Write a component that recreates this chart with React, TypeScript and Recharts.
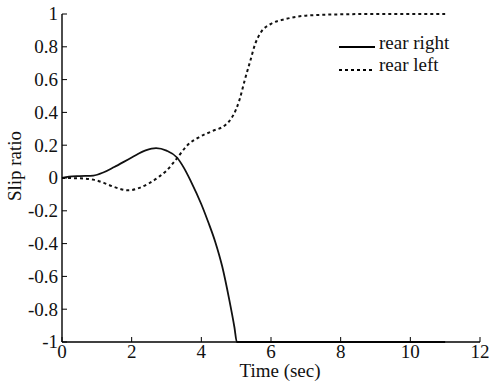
import { Legend, Line, LineChart, XAxis, YAxis } from 'recharts'

// time (sec) / slip ratio samples
const rightTime = [0, 0.2, 0.5, 0.9, 1.2, 1.5, 2.0, 2.4, 2.7, 3.0, 3.3, 3.5, 3.7, 4.0, 4.2, 4.4, 4.6, 4.8, 4.95, 5.02, 6, 8, 11]
const rightSlip = [0, 0.008, 0.012, 0.015, 0.035, 0.067, 0.125, 0.168, 0.182, 0.167, 0.125, 0.062, -0.02, -0.16, -0.27, -0.39, -0.54, -0.74, -0.91, -1, -1, -1, -1]

const leftTime = [0, 0.5, 0.9, 1.2, 1.5, 1.9, 2.2, 2.5, 2.8, 3.0, 3.3, 3.6, 3.9, 4.3, 4.7, 4.85, 5.0, 5.1, 5.25, 5.4, 5.55, 5.7, 6.0, 6.4, 7.0, 7.8, 9, 11]
const leftSlip = [0, -0.002, -0.01, -0.03, -0.055, -0.075, -0.062, -0.032, 0.01, 0.045, 0.12, 0.2, 0.245, 0.285, 0.325, 0.36, 0.42, 0.48, 0.6, 0.71, 0.82, 0.885, 0.94, 0.968, 0.99, 0.997, 1, 1]

const xTicks = [0, 2, 4, 6, 8, 10, 12]
const yTicks = [-1, -0.8, -0.6, -0.4, -0.2, 0, 0.2, 0.4, 0.6, 0.8, 1]

const rearRight = rightTime.map((t, i) => ({ t, slip: rightSlip[i] }))
const rearLeft = leftTime.map((t, i) => ({ t, slip: leftSlip[i] }))

const txt = { fontFamily: 'Liberation Serif, Times New Roman, serif', fontSize: 19 }
const TICK = 5
const DOTS = '3 3'

const BottomTick = ({ x, y, payload }: any) => (
  <g>
    <line x1={x} x2={x} y1={y} y2={y - TICK} stroke="#000" />
    <text x={x} y={y + 16} textAnchor="middle" style={txt} fill="#111">
      {payload.value}
    </text>
  </g>
)

const TopTick = ({ x, y }: any) => <line x1={x} x2={x} y1={y} y2={y + TICK} stroke="#000" />

const LeftTick = ({ x, y, payload }: any) => (
  <g>
    <line x1={x} x2={x + TICK} y1={y} y2={y} stroke="#000" />
    <text x={x - 4} y={y} dy="0.34em" textAnchor="end" style={txt} fill="#111">
      {payload.value}
    </text>
  </g>
)

const RightTick = ({ x, y }: any) => <line x1={x} x2={x - TICK} y1={y} y2={y} stroke="#000" />

const LegendBox = () => (
  <svg width={148} height={46} style={{ display: 'block', overflow: 'visible' }}>
    <line x1={0} x2={36} y1={11} y2={11} stroke="#000" strokeWidth={1.8} />
    <text x={40} y={12.5} style={txt} fill="#111">rear right</text>
    <line x1={0} x2={36} y1={34} y2={34} stroke="#000" strokeWidth={2} strokeDasharray={DOTS} />
    <text x={40} y={34.7} style={txt} fill="#111">rear left</text>
  </svg>
)

export default function App() {
  return (
    <div style={{ position: 'absolute', left: 0, top: 0, background: '#fff' }}>
      <LineChart width={489} height={381} margin={{ top: 14, right: 9, bottom: 0, left: 0 }}>
        <XAxis
          type="number"
          dataKey="t"
          domain={[0, 12]}
          ticks={xTicks}
          height={39}
          tickSize={0}
          tickMargin={0}
          tick={<BottomTick />}
          axisLine={{ stroke: '#000', strokeWidth: 1.4 }}
          label={{
            content: ({ viewBox }: any) => (
              <text x={viewBox.x + viewBox.width / 2 + 9} y={377} textAnchor="middle" style={txt} fill="#111">
                Time (sec)
              </text>
            ),
          }}
        />
        <XAxis
          xAxisId="top"
          orientation="top"
          type="number"
          domain={[0, 12]}
          ticks={xTicks}
          height={0}
          tickSize={0}
          tickMargin={0}
          tick={<TopTick />}
          axisLine={{ stroke: '#000', strokeWidth: 1.4 }}
        />
        <YAxis
          type="number"
          domain={[-1, 1]}
          ticks={yTicks}
          width={62}
          tickSize={0}
          tickMargin={0}
          tick={<LeftTick />}
          axisLine={{ stroke: '#000', strokeWidth: 1.4 }}
          label={{
            content: ({ viewBox }: any) => {
              const cy = viewBox.y + viewBox.height / 2 - 12
              return (
                <text x={21} y={cy} transform={`rotate(-90, 21, ${cy})`} textAnchor="middle" style={txt} fill="#111">
                  Slip ratio
                </text>
              )
            },
          }}
        />
        <YAxis
          yAxisId="right"
          orientation="right"
          type="number"
          domain={[-1, 1]}
          ticks={yTicks}
          width={0}
          tickSize={0}
          tickMargin={0}
          tick={<RightTick />}
          axisLine={{ stroke: '#000', strokeWidth: 1.4 }}
        />
        <Legend
          layout="vertical"
          align="center"
          verticalAlign="middle"
          content={() => <LegendBox />}
          wrapperStyle={{ position: 'absolute', left: 339, top: 36 }}
        />
        <Line
          data={rearRight}
          dataKey="slip"
          name="rear right"
          type="monotone"
          stroke="#111"
          strokeWidth={1.8}
          dot={false}
          activeDot={false}
          isAnimationActive={false}
        />
        <Line
          data={rearLeft}
          dataKey="slip"
          name="rear left"
          type="monotone"
          stroke="#111"
          strokeWidth={2}
          strokeDasharray={DOTS}
          dot={false}
          activeDot={false}
          isAnimationActive={false}
        />
      </LineChart>
    </div>
  )
}
